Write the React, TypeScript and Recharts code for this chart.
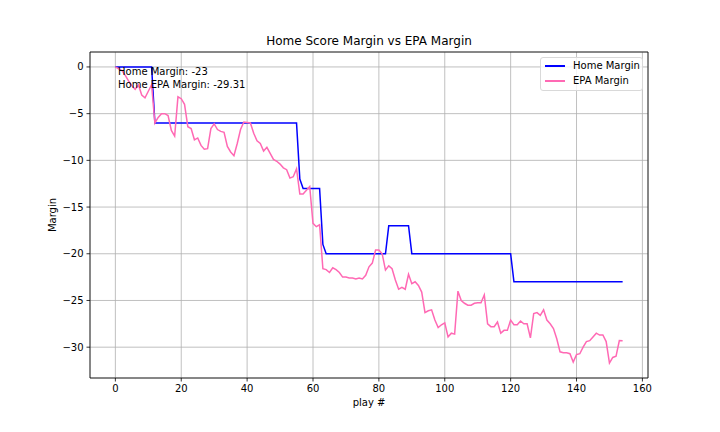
import React from "react";
import {
  LineChart,
  Line,
  XAxis,
  YAxis,
  CartesianGrid,
  ReferenceArea,
} from "recharts";

// score margin for the home side, one value per play
const homeMargin = [
  0, 0, 0, 0, 0, 0, 0, 0, 0, 0,
  0, 0, -6, -6, -6, -6, -6, -6, -6, -6,
  -6, -6, -6, -6, -6, -6, -6, -6, -6, -6,
  -6, -6, -6, -6, -6, -6, -6, -6, -6, -6,
  -6, -6, -6, -6, -6, -6, -6, -6, -6, -6,
  -6, -6, -6, -6, -6, -6, -12, -13, -13, -13,
  -13, -13, -13, -19, -20, -20, -20, -20, -20, -20,
  -20, -20, -20, -20, -20, -20, -20, -20, -20, -20,
  -20, -20, -20, -17, -17, -17, -17, -17, -17, -17,
  -20, -20, -20, -20, -20, -20, -20, -20, -20, -20,
  -20, -20, -20, -20, -20, -20, -20, -20, -20, -20,
  -20, -20, -20, -20, -20, -20, -20, -20, -20, -20,
  -20, -23, -23, -23, -23, -23, -23, -23, -23, -23,
  -23, -23, -23, -23, -23, -23, -23, -23, -23, -23,
  -23, -23, -23, -23, -23, -23, -23, -23, -23, -23,
  -23, -23, -23, -23, -23,
];

// cumulative EPA margin, one value per play
const epaMargin = [
  0, -0.2, -0.4, -0.9, -1.5, -2.0, -2.4, -1.9, -3.0, -3.3,
  -2.6, -1.9, -6.0, -5.4, -5.0, -5.0, -5.2, -6.8, -7.4, -3.2,
  -3.4, -4.0, -6.4, -6.6, -7.8, -7.6, -8.4, -8.8, -8.75, -6.6,
  -6.1, -6.7, -6.9, -7.0, -8.5, -9.1, -9.5, -8.2, -6.7, -5.9,
  -5.95, -6.0, -7.1, -7.9, -8.2, -9.0, -8.6, -9.25, -9.9, -10.1,
  -10.4, -10.8, -11.0, -11.9, -11.75, -10.9, -13.6, -13.6, -13.2, -12.8,
  -16.75, -17.1, -16.9, -21.6, -21.7, -22.0, -21.5, -21.7, -22.0, -22.5,
  -22.5, -22.6, -22.6, -22.7, -22.6, -22.7, -22.3, -21.4, -21.0, -19.6,
  -19.6, -20.0, -21.75, -21.3, -21.6, -22.8, -23.8, -23.6, -23.8, -22.2,
  -23.2, -23.0, -23.4, -24.1, -26.3, -26.1, -26.0, -27.1, -27.9, -27.6,
  -27.4, -28.9, -28.5, -28.6, -24.0, -25.0, -25.3, -25.5, -25.5, -25.3,
  -25.25, -25.25, -24.4, -27.5, -27.8, -27.8, -27.3, -28.5, -28.2, -28.2,
  -27.1, -27.6, -27.6, -27.2, -27.5, -27.5, -29.0, -26.4, -26.3, -26.6,
  -26.0, -27.1, -27.5, -28.0, -29.1, -30.5, -30.6, -30.6, -30.7, -31.6,
  -30.8, -30.7, -30.0, -29.4, -29.3, -28.9, -28.5, -28.7, -28.7, -29.4,
  -31.7, -31.1, -30.97, -29.3, -29.31,
];

const xTicks = [0, 20, 40, 60, 80, 100, 120, 140, 160];
const yTicks = [-30, -25, -20, -15, -10, -5, 0];

const X_DOMAIN: [number, number] = [-7.7, 161.7];
const Y_DOMAIN: [number, number] = [-33.3, 1.6];

const FONT = "'DejaVu Sans', sans-serif";

const data = homeMargin.map((home, i) => ({
  play: i,
  home,
  epa: epaMargin[i],
}));

const minus = (v: number) => String(v).replace("-", "\u2212");

const tickStyle = { fontSize: 10, fill: "#000", fontFamily: FONT };

export default function App() {
  return (
    <div
      style={{
        position: "absolute",
        left: 0,
        top: 0,
        width: 720,
        height: 432,
        background: "#fff",
        fontFamily: FONT,
      }}
    >
      <LineChart
        width={720}
        height={432}
        data={data}
        margin={{ top: 52, right: 72, bottom: 24, left: 40 }}
      >
        <CartesianGrid stroke="#b0b0b0" strokeWidth={0.8} />
        <XAxis
          dataKey="play"
          type="number"
          domain={X_DOMAIN}
          ticks={xTicks}
          allowDataOverflow
          height={30}
          tick={tickStyle}
          tickSize={3.5}
          tickMargin={3}
          tickLine={{ stroke: "#000", strokeWidth: 0.8 }}
          axisLine={false}
          tickFormatter={minus}
        />
        <YAxis
          type="number"
          domain={Y_DOMAIN}
          ticks={yTicks}
          allowDataOverflow
          width={50}
          tick={tickStyle}
          tickSize={3.5}
          tickMargin={3}
          tickLine={{ stroke: "#000", strokeWidth: 0.8 }}
          axisLine={false}
          tickFormatter={minus}
        />
        <Line
          type="linear"
          dataKey="home"
          stroke="#0000ff"
          strokeWidth={1.5}
          dot={false}
          isAnimationActive={false}
        />
        <Line
          type="linear"
          dataKey="epa"
          stroke="#ff69b4"
          strokeWidth={1.5}
          dot={false}
          isAnimationActive={false}
        />
        <ReferenceArea
          x1={X_DOMAIN[0]}
          x2={X_DOMAIN[1]}
          y1={Y_DOMAIN[0]}
          y2={Y_DOMAIN[1]}
          fill="none"
          stroke="#000"
          strokeWidth={0.8}
          fillOpacity={0}
        />
      </LineChart>

      {/* title */}
      <div
        style={{
          position: "absolute",
          left: 90,
          width: 558,
          top: 34,
          textAlign: "center",
          fontSize: 12,
          lineHeight: "14px",
        }}
      >
        Home Score Margin vs EPA Margin
      </div>

      {/* x label */}
      <div
        style={{
          position: "absolute",
          left: 90,
          width: 558,
          top: 397,
          textAlign: "center",
          fontSize: 10,
          lineHeight: "12px",
        }}
      >
        play #
      </div>

      {/* y label */}
      <div
        style={{
          position: "absolute",
          left: 53 - 50,
          top: 215 - 6,
          width: 100,
          textAlign: "center",
          fontSize: 10,
          lineHeight: "12px",
          transform: "rotate(-90deg)",
        }}
      >
        Margin
      </div>

      {/* annotation */}
      <div
        style={{
          position: "absolute",
          left: 118,
          top: 66,
          fontSize: 10,
          lineHeight: "12.5px",
          whiteSpace: "pre",
        }}
      >
        {"Home Margin: -23\nHome EPA Margin: -29.31"}
      </div>

      {/* legend */}
      <div
        style={{
          position: "absolute",
          left: 540,
          top: 57,
          width: 101,
          height: 32,
          border: "1px solid #d9d9d9",
          borderRadius: 3,
          background: "rgba(255,255,255,0.8)",
          fontSize: 10,
        }}
      >
        {[
          { name: "Home Margin", color: "#0000ff" },
          { name: "EPA Margin", color: "#ff69b4" },
        ].map((item, i) => (
          <div
            key={item.name}
            style={{
              position: "absolute",
              left: 4,
              top: 2 + i * 15,
              height: 12,
              display: "flex",
              alignItems: "center",
            }}
          >
            <span
              style={{
                display: "inline-block",
                width: 20,
                height: 1.5,
                background: item.color,
                marginRight: 8,
              }}
            />
            <span style={{ lineHeight: "12px" }}>{item.name}</span>
          </div>
        ))}
      </div>
    </div>
  );
}
